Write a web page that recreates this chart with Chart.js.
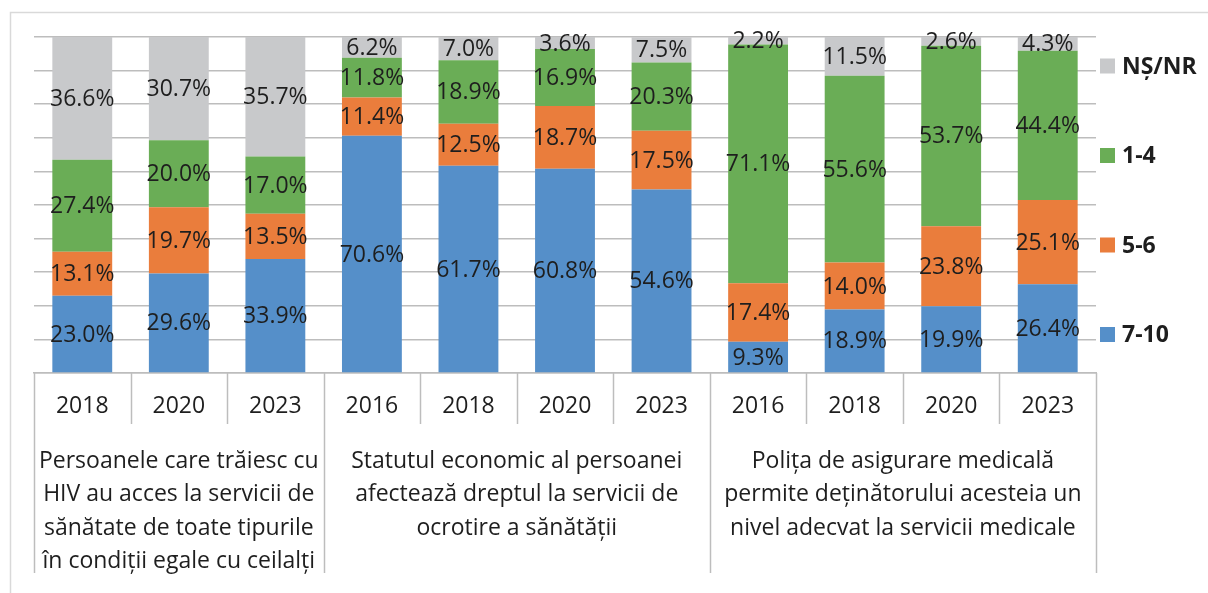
<!DOCTYPE html>
<html>
<head>
<meta charset="utf-8">
<script src="https://cdn.jsdelivr.net/npm/chart.js@4.4.1/dist/chart.umd.min.js"></script>
<style>
  html, body { margin: 0; padding: 0; background: #fff; }
  #wrap { width: 1208px; height: 593px; position: relative; }
</style>
</head>
<body>
<div id="wrap"><canvas id="chart" width="1208" height="593"></canvas></div>
<script>
// years under each bar
const years = ['2018', '2020', '2023', '2016', '2018', '2020', '2023', '2016', '2018', '2020', '2023'];

// question groups: label lines and how many bars each spans
const groupLines = [
    ['Persoanele care trăiesc cu', 'HIV au acces la servicii de', 'sănătate de toate tipurile', 'în condiții egale cu ceilalți'],
    ['Statutul economic al persoanei', 'afectează dreptul la servicii de', 'ocrotire a sănătății'],
    ['Polița de asigurare medicală', 'permite deținătorului acesteia un', 'nivel adecvat la servicii medicale']
];
const groupSizes = [3, 4, 4];

// series, bottom to top
const score7to10 = [23.0, 29.6, 33.9, 70.6, 61.7, 60.8, 54.6, 9.3, 18.9, 19.9, 26.4];
const score5to6 = [13.1, 19.7, 13.5, 11.4, 12.5, 18.7, 17.5, 17.4, 14.0, 23.8, 25.1];
const score1to4 = [27.4, 20.0, 17.0, 11.8, 18.9, 16.9, 20.3, 71.1, 55.6, 53.7, 44.4];
const scoreNsNr = [36.6, 30.7, 35.7, 6.2, 7.0, 3.6, 7.5, 2.2, 11.5, 2.6, 4.3];

const FONT = '"Open Sans", "Noto Sans", sans-serif';
const TEXT = '#1e1e1e';
const LINE = '#bdbdbd';

// percent labels in the middle of every segment
const valueLabels = {
    id: 'valueLabels',
    afterDatasetsDraw(chart) {
        const ctx = chart.ctx;
        ctx.save();
        ctx.font = '23px ' + FONT;
        ctx.fillStyle = TEXT;
        ctx.textAlign = 'center';
        ctx.textBaseline = 'middle';
        chart.data.datasets.forEach((ds, i) => {
            chart.getDatasetMeta(i).data.forEach((bar, j) => {
                const v = ds.data[j];
                ctx.fillText(v.toFixed(1) + '%', bar.x, (bar.y + bar.base) / 2 + 1);
            });
        });
        ctx.restore();
    }
};

// separators, group titles, frame and legend
const decorations = {
    id: 'decorations',
    afterDraw(chart) {
        const ctx = chart.ctx;
        const x = chart.scales.x;
        const bottom = chart.chartArea.bottom;
        const w = x.width / years.length;
        ctx.save();

        // outer frame
        ctx.strokeStyle = '#d9d9d9';
        ctx.lineWidth = 1.5;
        ctx.beginPath();
        ctx.moveTo(10.5, 600);
        ctx.lineTo(10.5, 12.5);
        ctx.lineTo(1220, 12.5);
        ctx.stroke();

        // category separators
        ctx.strokeStyle = LINE;
        ctx.lineWidth = 1.5;
        const groupEdges = [0];
        groupSizes.forEach(n => groupEdges.push(groupEdges[groupEdges.length - 1] + n));
        for (let k = 0; k <= years.length; k++) {
            const px = Math.round(x.left + k * w) + 0.5;
            const long = groupEdges.includes(k);
            ctx.beginPath();
            ctx.moveTo(px, bottom);
            ctx.lineTo(px, long ? 573 : 424);
            ctx.stroke();
        }

        // group titles
        ctx.font = '23px ' + FONT;
        ctx.fillStyle = TEXT;
        ctx.textAlign = 'center';
        ctx.textBaseline = 'middle';
        groupLines.forEach((lines, g) => {
            const cx = x.left + (groupEdges[g] + groupSizes[g] / 2) * w;
            const maxW = groupSizes[g] * w - 8;
            lines.forEach((line, l) => {
                ctx.fillText(line, cx, 461 + l * 33.5, maxW);
            });
        });

        // legend, top to bottom
        const items = chart.data.datasets.slice().reverse();
        ctx.font = 'bold 23px ' + FONT;
        ctx.textAlign = 'left';
        items.forEach((ds, i) => {
            const cy = 66 + i * 89.5;
            ctx.fillStyle = ds.backgroundColor;
            ctx.fillRect(1100, cy - 7.5, 15, 15);
            ctx.fillStyle = TEXT;
            ctx.fillText(ds.label, 1122, cy + 1);
        });
        ctx.restore();
    }
};

new Chart(document.getElementById('chart'), {
    type: 'bar',
    data: {
        labels: years,
        datasets: [
            { label: '7-10', data: score7to10, backgroundColor: '#558fc9' },
            { label: '5-6', data: score5to6, backgroundColor: '#ea7d3c' },
            { label: '1-4', data: score1to4, backgroundColor: '#6aad56' },
            { label: 'NȘ/NR', data: scoreNsNr, backgroundColor: '#c8c9cb' }
        ]
    },
    options: {
        responsive: false,
        animation: false,
        layout: { padding: { left: 34, right: 112, top: 37, bottom: 0 } },
        datasets: { bar: { barPercentage: 0.62, categoryPercentage: 1.0 } },
        plugins: { legend: { display: false }, tooltip: { enabled: false } },
        scales: {
            x: {
                stacked: true,
                grid: { display: false, drawTicks: false },
                border: { display: true, color: LINE, width: 1.5 },
                ticks: { color: TEXT, font: { family: FONT, size: 23 }, padding: 20, maxRotation: 0 },
                afterFit(scale) { scale.height = 220; }
            },
            y: {
                stacked: true,
                min: 0,
                max: 100,
                ticks: { display: false, stepSize: 10 },
                grid: { color: LINE, lineWidth: 1.5, drawTicks: false },
                border: { display: false },
                afterFit(scale) { scale.width = 0; }
            }
        }
    },
    plugins: [valueLabels, decorations]
});
</script>
</body>
</html>
